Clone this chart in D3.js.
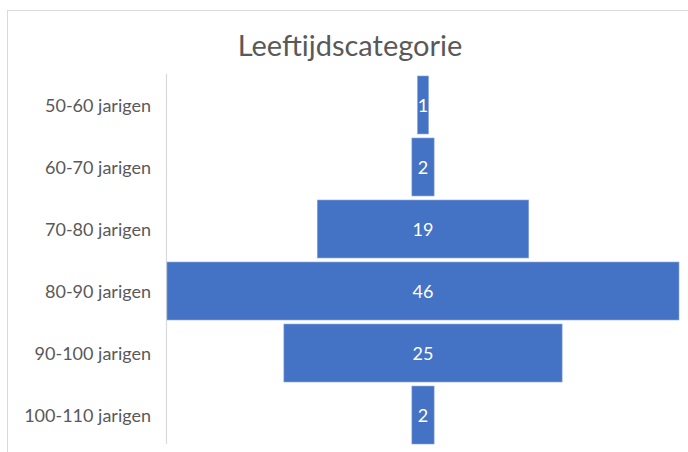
<!DOCTYPE html>
<html><head><meta charset="utf-8">
<script src="https://cdn.jsdelivr.net/npm/d3@7"></script>
<style>body{margin:0;background:#fff}svg{display:block}</style>
</head><body>
<svg id="c" width="688" height="452"></svg>
<script>
const title = "Leeftijdscategorie";
const categories = ["50-60 jarigen","60-70 jarigen","70-80 jarigen","80-90 jarigen","90-100 jarigen","100-110 jarigen"];
const values = [1, 2, 19, 46, 25, 2];

const svg = d3.select("#c");
const font = "Lato, 'Open Sans', sans-serif";
svg.append("rect").attr("x",7.5).attr("y",10.5).attr("width",720).attr("height",480)
  .attr("fill","#fff").attr("stroke","#d9d9d9").attr("stroke-width",1);

svg.append("text").attr("x",350).attr("y",56).attr("text-anchor","middle")
  .attr("font-family",font).attr("font-size",29).attr("fill","#595959").text(title);

const cx = 423, half = 256;
const x = d3.scaleLinear().domain([0, d3.max(values)]).range([0, 2*half]);
const y = d3.scaleBand().domain(categories).range([74, 446]).paddingInner(0.065).paddingOuter(0.032);

svg.append("line").attr("x1",166.5).attr("x2",166.5).attr("y1",74).attr("y2",444)
  .attr("stroke","#d9d9d9").attr("stroke-width",1.2);

svg.selectAll("text.lab").data(categories).join("text").attr("class","lab")
  .attr("x",151).attr("y",d=>y(d)+y.bandwidth()/2+1).attr("dy","0.35em")
  .attr("text-anchor","end").attr("font-family",font).attr("font-size",18).attr("fill","#595959")
  .text(d=>d);

svg.selectAll("rect.bar").data(values).join("rect").attr("class","bar")
  .attr("x",(d)=>cx - x(d)/2).attr("width",d=>x(d))
  .attr("y",(d,i)=>y(categories[i])).attr("height",y.bandwidth())
  .attr("fill","#4472c4").attr("stroke","#8fa9dc").attr("stroke-width",0.6);

svg.selectAll("text.val").data(values).join("text").attr("class","val")
  .attr("x",cx).attr("y",(d,i)=>y(categories[i])+y.bandwidth()/2+1).attr("dy","0.35em")
  .attr("text-anchor","middle").attr("font-family",font).attr("font-size",18).attr("fill","#fff")
  .text(d=>d);
</script>
</body></html>
